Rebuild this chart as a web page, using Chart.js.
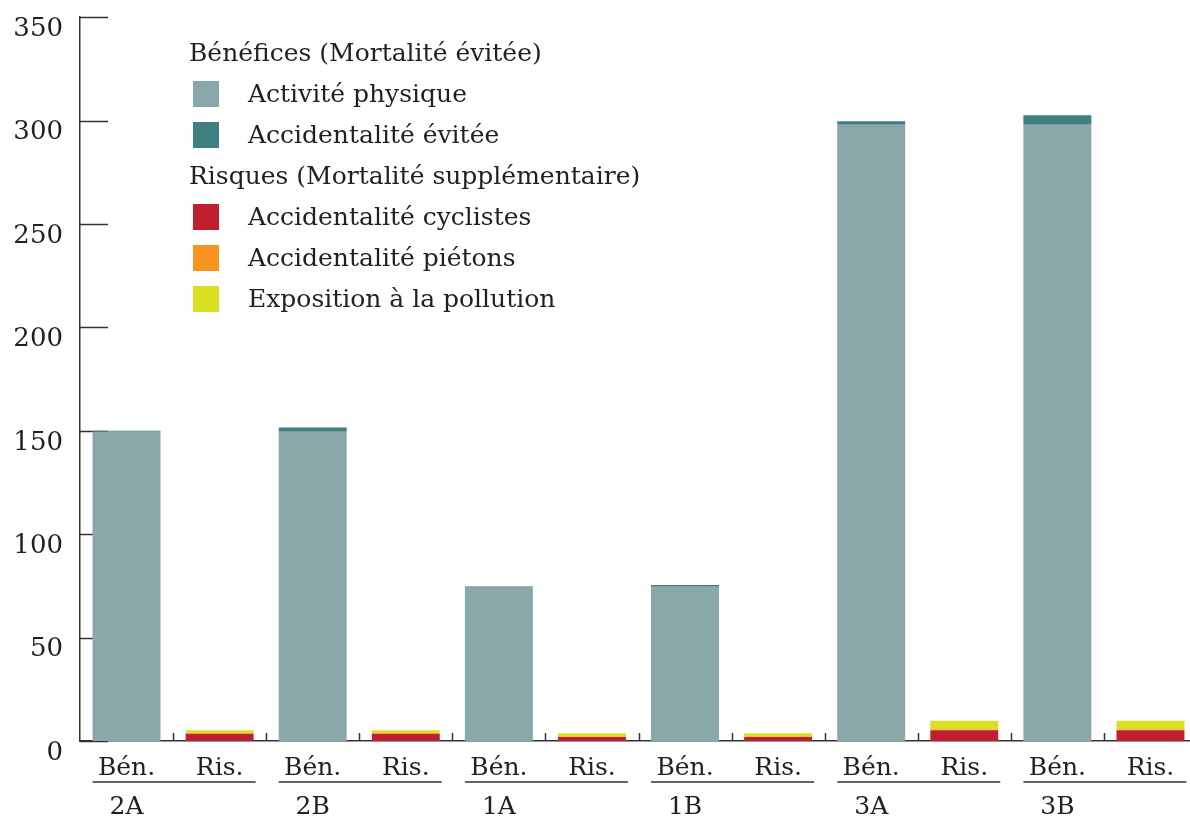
<!DOCTYPE html>
<html lang="fr">
<head>
<meta charset="utf-8">
<title>Bénéfices et risques</title>
<script src="https://cdn.jsdelivr.net/npm/chart.js@4/dist/chart.umd.min.js"></script>
<style>
  html, body { margin: 0; padding: 0; background: #fff; overflow: hidden; }
  #wrap { position: relative; width: 1200px; height: 816px; }
  #chart { display: block; }
  #legend {
    position: absolute; left: 189px; top: 32px;
    font-family: "DejaVu Serif", serif; font-size: 25px; color: #231f20;
  }
  #legend .head { height: 41px; line-height: 41px; }
  #legend .row { height: 41px; display: flex; align-items: center; }
  #legend .box { width: 26px; height: 26px; margin-left: 4px; margin-right: 29px; }
</style>
</head>
<body>
<div id="wrap">
  <canvas id="chart" width="1200" height="816"></canvas>
  <div id="legend"></div>
</div>
<script>
// --- Data ---
const scenarios = ["2A", "2B", "1A", "1B", "3A", "3B"];
const barKinds = ["Bén.", "Ris."];
const yTicks = [0, 50, 100, 150, 200, 250, 300, 350];

// Bénéfices (per scenario)
const activitePhysique = [149.5, 149.5, 74.8, 74.6, 298, 298];
const accidentaliteEvitee = [0.5, 2.1, 0.2, 0.8, 1.6, 4.5];
// Risques (per scenario)
const accidentaliteCyclistes = [3.5, 3.5, 1.9, 1.9, 5.2, 5.2];
const accidentalitePietons = [0.3, 0.3, 0.3, 0.3, 0.3, 0.3];
const expositionPollution = [1.4, 1.4, 1.6, 1.6, 4.3, 4.3];

const TEXT = "#231f20";
const FONT = "'DejaVu Serif', serif";

// one category per bar, the scenario name goes on a second label line under "Bén."
const labels = [];
scenarios.forEach((s) => {
  labels.push([barKinds[0], s]);
  labels.push([barKinds[1]]);
});

// put benefit values on the Bén. slot and risk values on the Ris. slot
function onBen(arr) {
  const out = [];
  arr.forEach((v) => { out.push(v); out.push(null); });
  return out;
}
function onRis(arr) {
  const out = [];
  arr.forEach((v) => { out.push(null); out.push(v); });
  return out;
}

const datasets = [
  { label: "Activité physique", data: onBen(activitePhysique), backgroundColor: "#8aa7aa", group: 0 },
  { label: "Accidentalité évitée", data: onBen(accidentaliteEvitee), backgroundColor: "#3f7f80", group: 0 },
  { label: "Accidentalité cyclistes", data: onRis(accidentaliteCyclistes), backgroundColor: "#c11f2f", group: 1 },
  { label: "Accidentalité piétons", data: onRis(accidentalitePietons), backgroundColor: "#f7941d", group: 1 },
  { label: "Exposition à la pollution", data: onRis(expositionPollution), backgroundColor: "#d9e021", group: 1 },
].map((d) => Object.assign(d, { stack: "s", barPercentage: 0.73, categoryPercentage: 1 }));

// --- Legend with group headers, built from the datasets ---
const legendHeads = ["Bénéfices (Mortalité évitée)", "Risques (Mortalité supplémentaire)"];
const legendEl = document.getElementById("legend");
legendHeads.forEach((h, g) => {
  const head = document.createElement("div");
  head.className = "head";
  head.textContent = h;
  legendEl.appendChild(head);
  datasets.filter((d) => d.group === g).forEach((d) => {
    const row = document.createElement("div");
    row.className = "row";
    row.innerHTML = `<span class="box" style="background:${d.backgroundColor}"></span><span>${d.label}</span>`;
    legendEl.appendChild(row);
  });
});

// inner tick marks, the between-bar marks and the underline of each scenario pair
const axisDecor = {
  id: "axisDecor",
  beforeDatasetsDraw(chart) {
    const { ctx, chartArea, scales } = chart;
    ctx.save();
    ctx.strokeStyle = "#333";
    ctx.lineWidth = 1.5;
    yTicks.forEach((v) => {
      const y = Math.round(scales.y.getPixelForValue(v)) + 0.5;
      ctx.beginPath();
      ctx.moveTo(chartArea.left, y);
      ctx.lineTo(chartArea.left + 28, y);
      ctx.stroke();
    });
    ctx.restore();
  },
  afterDraw(chart) {
    const { ctx, chartArea, scales } = chart;
    const x = scales.x;
    ctx.save();
    ctx.strokeStyle = "#333";
    ctx.lineWidth = 1.5;
    for (let i = 1; i < labels.length; i++) {
      const px = Math.round((x.getPixelForTick(i - 1) + x.getPixelForTick(i)) / 2) + 0.5;
      ctx.beginPath();
      ctx.moveTo(px, chartArea.bottom);
      ctx.lineTo(px, chartArea.bottom - 8);
      ctx.stroke();
    }
    const benBars = chart.getDatasetMeta(0).data;
    const risBars = chart.getDatasetMeta(2).data;
    const uy = chartArea.bottom + 41;
    scenarios.forEach((s, g) => {
      const a = benBars[2 * g];
      const b = risBars[2 * g + 1];
      ctx.beginPath();
      ctx.moveTo(a.x - a.width / 2, uy);
      ctx.lineTo(b.x + b.width / 2 + 2, uy);
      ctx.stroke();
    });
    ctx.restore();
  },
};

new Chart(document.getElementById("chart"), {
  type: "bar",
  data: { labels: labels, datasets: datasets },
  options: {
    responsive: false,
    animation: false,
    layout: { padding: { top: 0, right: 3, left: 0, bottom: 0 } },
    plugins: { legend: { display: false }, tooltip: { enabled: false } },
    scales: {
      x: {
        stacked: true,
        offset: true,
        grid: { display: false },
        border: { display: true, color: "#333", width: 1.5 },
        afterFit: (s) => { s.height = 75; },
        ticks: {
          autoSkip: false,
          maxRotation: 0,
          padding: 0,
          color: TEXT,
          font: { family: FONT, size: 25, lineHeight: 1.55 },
        },
      },
      y: {
        stacked: true,
        min: 0,
        max: 350,
        afterFit: (s) => { s.width = 80; },
        afterBuildTicks: (s) => { s.ticks = yTicks.map((v) => ({ value: v })); },
        grid: { display: false, drawTicks: false },
        border: { display: true, color: "#333", width: 1.5 },
        ticks: {
          padding: 17,
          labelOffset: 12,
          color: TEXT,
          font: { family: FONT, size: 26, lineHeight: 0.01 },
        },
      },
    },
  },
  plugins: [axisDecor],
});
</script>
</body>
</html>
